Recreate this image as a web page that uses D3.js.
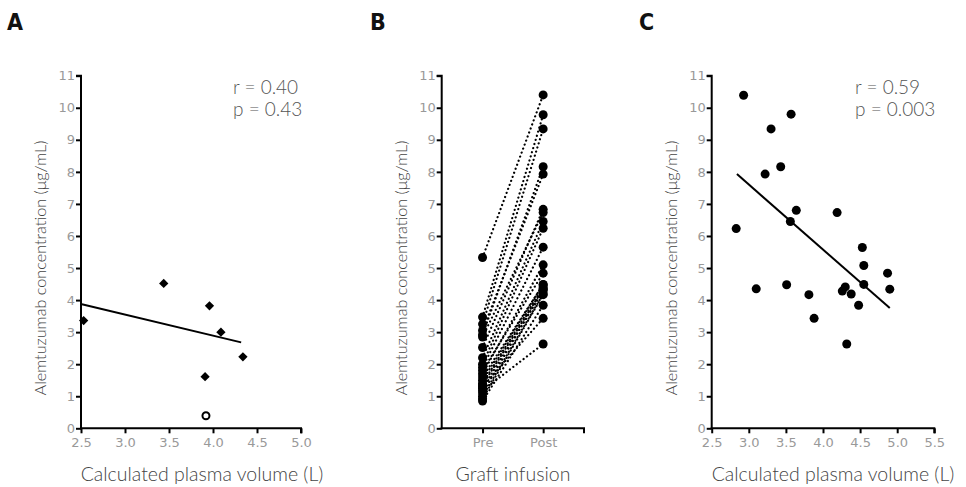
<!DOCTYPE html>
<html>
<head>
<meta charset="utf-8">
<script src="https://cdn.jsdelivr.net/npm/d3@7"></script>
<style>
    body { margin: 0; background: #fff; }
    svg text { font-family: Lato, "Open Sans", sans-serif; }
    .axis-title { fill: #444; font-size: 19.5px; font-weight: 300; }
    .y-title { font-size: 16.2px; }
    .stat { fill: #555; font-size: 19px; font-weight: 300; }
    .panel-label { font-family: "Liberation Sans Narrow", "DejaVu Sans Condensed", sans-serif !important; font-weight: bold; font-size: 23px; fill: #111; }
</style>
</head>
<body>
<div id="chart"></div>
<script>

// Panel A - plasma volume vs concentration
var plasmaA = [2.53, 3.44, 3.96, 4.09, 4.34, 3.91];
var concA = [3.36, 4.52, 3.82, 3.00, 2.23, 1.61];
var outlierPlasmaA = [3.92];
var outlierConcA = [0.39];
var fitPlasmaA = [2.51, 4.32];
var fitConcA = [3.87, 2.68];
var statsA = ["r = 0.40", "p = 0.43"];

// Panel B - pre / post graft infusion
var graftTimes = ["Pre", "Post"];
var preConc = [5.33, 3.47, 3.25, 2.92, 3.05, 2.52, 2.85, 2.20, 2.00, 1.90, 1.70, 1.80,
    1.50, 1.60, 1.40, 1.35, 1.10, 1.25, 1.00, 0.92, 0.85, 1.30, 1.18];
var postConc = [10.40, 9.78, 9.34, 8.16, 7.93, 6.83, 6.73, 6.45, 6.24, 5.65, 5.10, 4.84,
    4.49, 4.48, 4.41, 4.35, 4.34, 4.28, 4.19, 4.17, 3.84, 3.43, 2.63];

// Panel C - plasma volume vs concentration
var plasmaC = [2.93, 3.57, 3.30, 3.43, 3.22, 3.64, 4.19, 3.56, 2.83, 4.53, 4.55, 4.87,
    4.55, 3.51, 4.90, 3.10, 4.30, 4.26, 4.38, 3.81, 4.48, 3.88, 4.32];
var concC = [10.39, 9.80, 9.34, 8.16, 7.93, 6.80, 6.73, 6.45, 6.23, 5.64, 5.08, 4.84,
    4.49, 4.48, 4.34, 4.35, 4.41, 4.28, 4.19, 4.17, 3.84, 3.43, 2.63];
var fitPlasmaC = [2.84, 4.90];
var fitConcC = [7.93, 3.75];
var statsC = ["r = 0.59", "p = 0.003"];

var yTicks = d3.range(0, 12);
var xTicksA = [2.5, 3.0, 3.5, 4.0, 4.5, 5.0];
var xTicksC = [2.5, 3.0, 3.5, 4.0, 4.5, 5.0, 5.5];

var width = 966, height = 487;
var yTop = 75.7, yBottom = 428.3;

var svg = d3.select("#chart").append("svg")
    .attr("width", width)
    .attr("height", height);

var y = d3.scaleLinear().domain([0, 11]).range([yBottom, yTop]);

function drawFrame(left, right, x, xTickValues, xFormat, panelLabel, labelX, titleX, xTitle) {
    var g = svg.append("g");

    // y axis
    var yAxis = g.append("g")
        .attr("transform", "translate(" + left + ",0)")
        .call(d3.axisLeft(y).tickValues(yTicks).tickSize(5).tickPadding(1));
    // x axis
    var xAxis = g.append("g")
        .attr("transform", "translate(0," + yBottom + ")")
        .call(d3.axisBottom(x).tickValues(xTickValues).tickFormat(xFormat).tickSize(5).tickPadding(4));

    [yAxis, xAxis].forEach(function(a) {
        a.attr("font-size", 13).attr("font-family", "DejaVu Sans");
        a.select(".domain").attr("stroke", "#000").attr("stroke-width", 2);
        a.selectAll(".tick line").attr("stroke", "#000").attr("stroke-width", 2);
        a.selectAll(".tick text")
            .style("font-family", "'DejaVu Sans', sans-serif")
            .style("font-size", "13px")
            .style("fill", "#999");
    });
    yAxis.select(".domain").attr("d", "M0," + (yBottom + 1) + "V" + yTop + "h-5");
    xAxis.select(".domain").attr("d", "M" + (left - 1) + ",0H" + right + "v5");

    g.append("text")
        .attr("class", "axis-title y-title")
        .attr("transform", "translate(" + (left - 35) + "," + ((yTop + yBottom) / 2 + 16) + ") rotate(-90)")
        .attr("text-anchor", "middle")
        .text("Alemtuzumab concentration (μg/mL)");

    g.append("text")
        .attr("class", "axis-title")
        .attr("x", titleX)
        .attr("y", 481)
        .attr("text-anchor", "middle")
        .text(xTitle);

    g.append("text")
        .attr("class", "panel-label")
        .attr("x", labelX)
        .attr("y", 30)
        .text(panelLabel);

    return g;
}

function drawStats(g, x0, lines) {
    g.selectAll("text.stat")
        .data(lines)
        .enter().append("text")
        .attr("class", "stat")
        .attr("x", x0)
        .attr("y", function(d, i) { return 94 + i * 22; })
        .text(function(d) { return d; });
}

// ---- Panel A
var xA = d3.scaleLinear().domain([2.5, 5.0]).range([81, 301]);
var gA = drawFrame(81, 301, xA, xTicksA, d3.format(".1f"), "A", 7, 202, "Calculated plasma volume (L)");

gA.append("line")
    .attr("x1", xA(fitPlasmaA[0])).attr("y1", y(fitConcA[0]))
    .attr("x2", xA(fitPlasmaA[1])).attr("y2", y(fitConcA[1]))
    .attr("stroke", "#000").attr("stroke-width", 2);

gA.selectAll("path.diamond")
    .data(plasmaA)
    .enter().append("path")
    .attr("class", "diamond")
    .attr("d", d3.symbol().type(d3.symbolDiamond2).size(55))
    .attr("transform", function(d, i) { return "translate(" + xA(d) + "," + y(concA[i]) + ")"; })
    .attr("fill", "#000");

gA.selectAll("circle.open")
    .data(outlierPlasmaA)
    .enter().append("circle")
    .attr("class", "open")
    .attr("cx", function(d) { return xA(d); })
    .attr("cy", function(d, i) { return y(outlierConcA[i]); })
    .attr("r", 3.5)
    .attr("fill", "#fff")
    .attr("stroke", "#000")
    .attr("stroke-width", 2);

drawStats(gA, 233, statsA);

// ---- Panel B
var xB = d3.scalePoint().domain(graftTimes).range([441.7, 584]).padding(0.674);
var gB = drawFrame(441.7, 584, xB, graftTimes, function(d) { return d; }, "B", 370, 513, "Graft infusion");

gB.selectAll("line.pair")
    .data(preConc)
    .enter().append("line")
    .attr("class", "pair")
    .attr("x1", xB("Pre")).attr("y1", function(d) { return y(d); })
    .attr("x2", xB("Post")).attr("y2", function(d, i) { return y(postConc[i]); })
    .attr("stroke", "#000")
    .attr("stroke-width", 2.2)
    .attr("stroke-linecap", "round")
    .attr("stroke-dasharray", "0.1,4.2");

gB.selectAll("circle.pre")
    .data(preConc)
    .enter().append("circle")
    .attr("class", "pre")
    .attr("cx", xB("Pre"))
    .attr("cy", function(d) { return y(d); })
    .attr("r", 4.5)
    .attr("fill", "#000");

gB.selectAll("circle.post")
    .data(postConc)
    .enter().append("circle")
    .attr("class", "post")
    .attr("cx", xB("Post"))
    .attr("cy", function(d) { return y(d); })
    .attr("r", 4.5)
    .attr("fill", "#000");

// ---- Panel C
var xC = d3.scaleLinear().domain([2.5, 5.5]).range([711.7, 934.3]);
var gC = drawFrame(711.7, 934.3, xC, xTicksC, d3.format(".1f"), "C", 639, 833, "Calculated plasma volume (L)");

gC.append("line")
    .attr("x1", xC(fitPlasmaC[0])).attr("y1", y(fitConcC[0]))
    .attr("x2", xC(fitPlasmaC[1])).attr("y2", y(fitConcC[1]))
    .attr("stroke", "#000").attr("stroke-width", 2);

gC.selectAll("circle.pt")
    .data(plasmaC)
    .enter().append("circle")
    .attr("class", "pt")
    .attr("cx", function(d) { return xC(d); })
    .attr("cy", function(d, i) { return y(concC[i]); })
    .attr("r", 4.5)
    .attr("fill", "#000");

drawStats(gC, 855, statsC);

</script>
</body>
</html>
